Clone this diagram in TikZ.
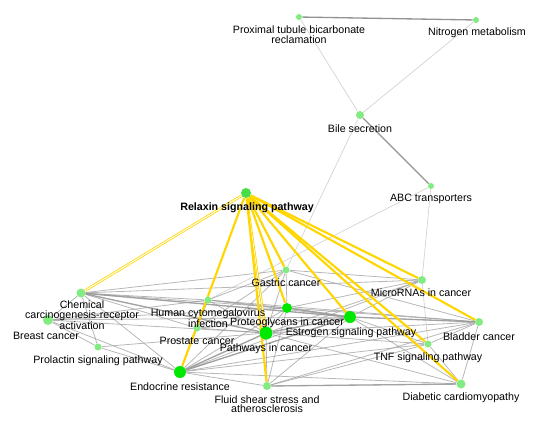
\documentclass[tikz,border=0pt]{standalone}
\usepackage{fontspec}
\setmainfont{Liberation Sans}
\usetikzlibrary{backgrounds}

\definecolor{gold}{RGB}{255,214,0}
\definecolor{palegreen}{RGB}{130,236,130}
\definecolor{brightgreen}{RGB}{0,232,0}
\definecolor{midgreen}{RGB}{70,222,70}
\tikzset{
  nd/.style={circle, fill=palegreen, inner sep=0pt, minimum size=#1*0.75pt},
  bignd/.style={circle, fill=brightgreen, inner sep=0pt, minimum size=#1*0.75pt},
  lbl/.style={font=\fontsize{8}{7.2}\selectfont, align=center, inner sep=0pt},
  edge/.style={draw=gray!80, line width=0.6pt, opacity=0.7},
  thickedge/.style={draw=gray!80, line width=1pt, opacity=0.8},
  lightedge/.style={draw=gray!35, line width=0.5pt},
  darkedge/.style={draw=gray!85, line width=1pt},
  hit/.style={draw=gold, line width=1.6pt},
}

\begin{document}
\begin{tikzpicture}[x=0.75pt,y=-0.75pt]
\useasboundingbox (0,0) rectangle (544,430);

% nodes
\node[nd=6] (pt) at (299,17) {};
\node[nd=6] (nm) at (476,20) {};
\node[nd=8] (bs) at (360,115) {};
\node[nd=6] (abc) at (431,186) {};
\node[circle, fill=midgreen, inner sep=0pt, minimum size=7.5pt] (rx) at (246,193) {};
\node[nd=7] (gc) at (286,270) {};
\node[nd=9] (cc) at (81,293) {};
\node[nd=10] (br) at (48,320) {};
\node[nd=7] (hc) at (208,300) {};
\node[nd=7] (pc) at (197,328) {};
\node[nd=7] (pl) at (98,347) {};
\node[bignd=12] (er) at (180,372) {};
\node[bignd=10] (pg) at (287,308) {};
\node[bignd=13] (pw) at (266,333) {};
\node[bignd=12] (es) at (350,317) {};
\node[nd=8] (mi) at (422,280) {};
\node[nd=8] (bl) at (479,322) {};
\node[nd=7] (tnf) at (428,344) {};
\node[nd=9] (dc) at (461,384) {};
\node[nd=8] (fs) at (267,386) {};

% labels
\node[lbl] (pt-l) at (299,34.5) {Proximal tubule bicarbonate\\reclamation};
\node[lbl] (nm-l) at (477,33) {Nitrogen metabolism};
\node[lbl] (bs-l) at (360,129) {Bile secretion};
\node[lbl] (abc-l) at (431,199) {ABC transporters};
\node[lbl, font=\fontsize{8}{7.2}\selectfont\bfseries] (rx-l) at (247,208) {Relaxin signaling pathway};
\node[lbl] (gc-l) at (286,283) {Gastric cancer};
\node[lbl] (cc-l) at (82,315.5) {Chemical\\carcinogenesis-receptor\\activation};
\node[lbl] (br-l) at (46,336) {Breast cancer};
\node[lbl] (hc-l) at (208,318) {Human cytomegalovirus\\infection};
\node[lbl] (pc-l) at (197,341) {Prostate cancer};
\node[lbl] (pl-l) at (98,361) {Prolactin signaling pathway};
\node[lbl] (er-l) at (180,387) {Endocrine resistance};
\node[lbl] (pg-l) at (287,323) {Proteoglycans in cancer};
\node[lbl] (pw-l) at (266,349) {Pathways in cancer};
\node[lbl] (es-l) at (351,333) {Estrogen signaling pathway};
\node[lbl] (mi-l) at (421,293) {MicroRNAs in cancer};
\node[lbl] (bl-l) at (479,337) {Bladder cancer};
\node[lbl] (tnf-l) at (428,358) {TNF signaling pathway};
\node[lbl] (dc-l) at (461,398) {Diabetic cardiomyopathy};
\node[lbl] (fs-l) at (267,404) {Fluid shear stress and\\atherosclerosis};

\begin{pgfonlayer}{background}
\draw[darkedge] (pt) -- (nm);
\draw[darkedge] (bs) -- (abc);
\foreach \a/\b in {pt/bs, nm/bs, bs/gc, abc/hc, abc/mi, mi/tnf}
  \draw[lightedge] (\a) -- (\b);

\foreach \a/\b in {cc/br, cc/pl, cc/er, cc/hc, cc/pc, cc/pg, cc/pw, cc/es, cc/gc, cc/mi,
    br/pl, br/er, br/hc, br/pw, br/pg, br/es, pl/er, pl/pw,
    er/pw, er/pg, er/es, er/hc, er/pc, er/gc, er/fs, er/bl, er/tnf, er/dc, er/mi,
    hc/pg, hc/pw, hc/es, hc/gc, hc/bl, pc/pw, pc/es, pc/gc,
    pw/pg, pw/es, pw/gc, pw/fs, pw/mi, pw/bl, pw/tnf, pw/dc,
    pg/es, pg/gc, pg/mi, pg/bl, pg/fs, es/bl, es/tnf, es/fs, es/dc, es/mi,
    gc/mi, gc/bl, fs/dc, fs/tnf, fs/bl, bl/dc, bl/tnf, tnf/dc}
  \draw[edge] (\a) -- (\b);
\foreach \a/\b in {cc/es, cc/pw, er/pw, er/es, pw/es, pg/es, es/bl, fs/dc}
  \draw[thickedge] (\a) -- (\b);

\draw[draw=gold, line width=0.6pt, double=white, double distance=0.7pt] (rx) -- (cc);
\draw[draw=gold, line width=0.6pt, double=white, double distance=0.5pt] (rx) -- (pw);
\foreach \b in {er, fs, gc, pg, es, mi, bl, tnf, dc}
  \draw[hit] (rx) -- (\b);
\end{pgfonlayer}
\end{tikzpicture}
\end{document}
